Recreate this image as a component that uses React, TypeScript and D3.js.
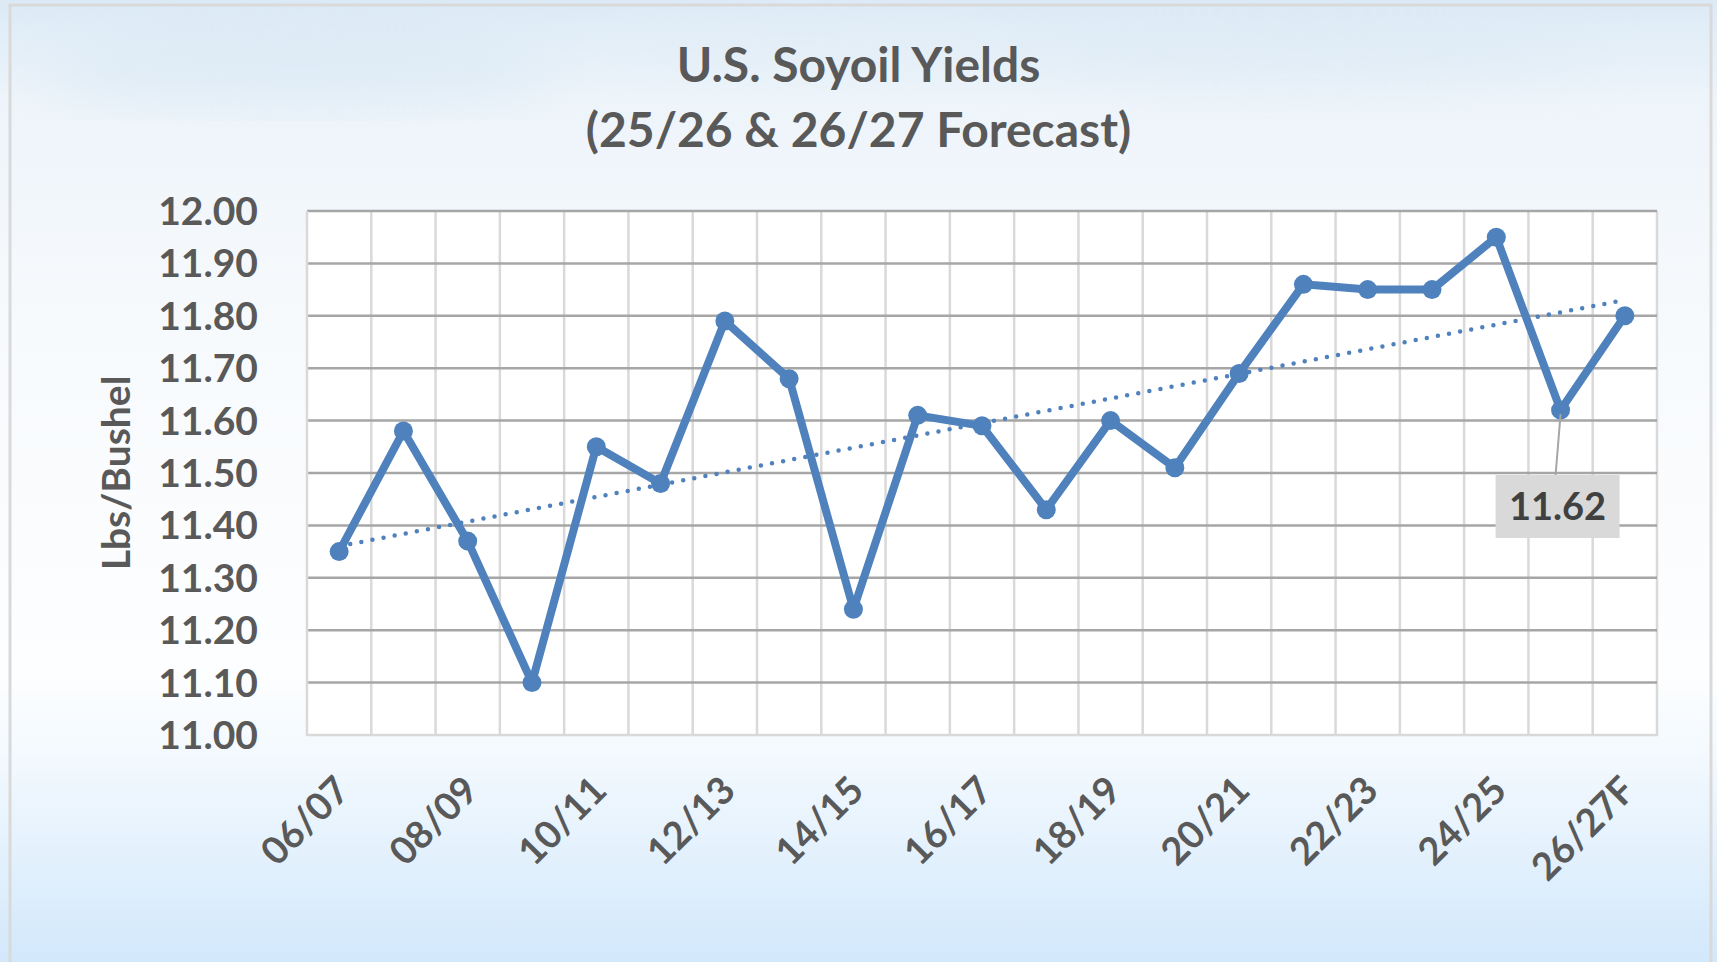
import React from 'react';
import * as d3 from 'd3';

const categories = ['06/07', '07/08', '08/09', '09/10', '10/11', '11/12', '12/13', '13/14', '14/15', '15/16', '16/17',
  '17/18', '18/19', '19/20', '20/21', '21/22', '22/23', '23/24', '24/25', '25/26', '26/27F'];
const yields = [11.35, 11.58, 11.37, 11.10, 11.55, 11.48, 11.79, 11.68, 11.24, 11.61, 11.59,
  11.43, 11.60, 11.51, 11.69, 11.86, 11.85, 11.85, 11.95, 11.62, 11.80];
const yTicks = [11.0, 11.1, 11.2, 11.3, 11.4, 11.5, 11.6, 11.7, 11.8, 11.9, 12.0];
const labelledIndex = 19; // 25/26 carries a data label

const W = 1717;
const H = 962;
const font = 'Lato, "Open Sans", sans-serif';
const textColor = '#595959';
const blue = '#4F81BD';

export default function App() {
  const x = d3.scaleBand<string>().domain(categories).range([307, 1657]);
  const y = d3.scaleLinear().domain([11, 12]).range([735, 211]);
  const cx = (c: string) => (x(c) as number) + x.bandwidth() / 2;

  // linear trendline (least squares), like Excel's
  const n = yields.length;
  const mi = (n - 1) / 2;
  const my = d3.mean(yields) as number;
  const slope = d3.sum(yields, (v, i) => (i - mi) * (v - my)) / d3.sum(yields, (_, i) => (i - mi) ** 2);
  const trend = (i: number) => my + slope * (i - mi);

  const line = d3.line<number>().x((_, i) => cx(categories[i])).y(v => y(v));
  const trendLine = d3.line<number>().x(i => cx(categories[i])).y(i => y(trend(i)));

  const lx = cx(categories[labelledIndex]);
  const ly = y(yields[labelledIndex]);

  return (
    <svg width={W} height={H} style={{ position: 'absolute', left: 0, top: 0, display: 'block' }}>
      <defs>
        <linearGradient id="bg" x1="0" y1="0" x2="0" y2="1">
          <stop offset="0" stopColor="#DCEAF6" />
          <stop offset="0.1" stopColor="#EDF4FA" />
          <stop offset="0.3" stopColor="#F6F9FC" />
          <stop offset="0.7" stopColor="#FDFEFF" />
          <stop offset="0.8" stopColor="#F1F8FE" />
          <stop offset="1" stopColor="#D2E8FB" />
        </linearGradient>
        <filter id="blur"><feGaussianBlur stdDeviation="25" /></filter>
      </defs>
      <rect width={W} height={H} fill="url(#bg)" />
      <g filter="url(#blur)" opacity={0.5}>
        <ellipse cx={300} cy={70} rx={260} ry={40} fill="#D6E6F3" />
        <ellipse cx={1300} cy={50} rx={300} ry={35} fill="#DCE9F4" />
        <ellipse cx={800} cy={30} rx={200} ry={25} fill="#E2EDF6" />
      </g>
      {/* frame */}
      <path d={`M10,${H} V5 H1711 V${H}`} fill="none" stroke="#D9D9D9" strokeWidth={3} />

      {/* title */}
      <text x={W / 2} y={82} textAnchor="middle" fontFamily={font} fontWeight={700} fontSize={48} fill={textColor}>U.S. Soyoil Yields</text>
      <text x={W / 2} y={147} textAnchor="middle" fontFamily={font} fontWeight={700} fontSize={48} fill={textColor}>(25/26 &amp; 26/27 Forecast)</text>

      {/* plot area */}
      <rect x={307} y={211} width={1350} height={524} fill="#FFFFFF" />
      {categories.map((c, i) => (
        <line key={'v' + i} x1={(x(c) as number) + x.bandwidth()} x2={(x(c) as number) + x.bandwidth()} y1={211} y2={735}
          stroke="#D9D9D9" strokeWidth={2.5} />
      ))}
      {yTicks.filter(t => t > 11).map(t => (
        <line key={'h' + t} x1={307} x2={1657} y1={y(t)} y2={y(t)} stroke="#A6A6A6" strokeWidth={2.5} />
      ))}
      <line x1={307} x2={307} y1={211} y2={736} stroke="#D9D9D9" strokeWidth={2.5} />
      <line x1={306} x2={1658} y1={735} y2={735} stroke="#D9D9D9" strokeWidth={2.5} />

      {/* y axis */}
      {yTicks.map(t => (
        <text key={'yt' + t} x={258} y={y(t)} dy="0.36em" textAnchor="end" fontFamily={font} fontWeight={700}
          fontSize={39} fill={textColor}>{t.toFixed(2)}</text>
      ))}
      <text transform={`translate(116,${(211 + 735) / 2}) rotate(-90)`} textAnchor="middle" dy="0.36em"
        fontFamily={font} fontWeight={700} fontSize={39} fill={textColor}>Lbs/Bushel</text>

      {/* x axis labels */}
      {categories.map((c, i) => i % 2 === 0 && (
        <text key={'xt' + c} transform={`translate(${cx(c) + 3},${783}) rotate(-45)`} textAnchor="end" dy="0.36em"
          fontFamily={font} fontWeight={700} fontSize={38} fill={textColor}>{c}</text>
      ))}

      {/* trendline */}
      <path d={trendLine(d3.range(n)) as string} fill="none" stroke={blue} strokeWidth={4.5}
        strokeLinecap="round" strokeDasharray="0 11.3" />

      {/* series */}
      <path d={line(yields) as string} fill="none" stroke={blue} strokeWidth={8} strokeLinejoin="round" />
      {yields.map((v, i) => (
        <circle key={'m' + i} cx={cx(categories[i])} cy={y(v)} r={9.5} fill={blue} />
      ))}

      {/* data label */}
      <line x1={lx} y1={ly + 4} x2={lx - 5} y2={475} stroke="#A6A6A6" strokeWidth={2} />
      <rect x={lx - 65} y={475} width={124} height={63} fill="#D9D9D9" />
      <text x={lx - 3} y={506} dy="0.36em" textAnchor="middle" fontFamily={font} fontWeight={700} fontSize={38}
        fill="#404040">{yields[labelledIndex].toFixed(2)}</text>
    </svg>
  );
}
